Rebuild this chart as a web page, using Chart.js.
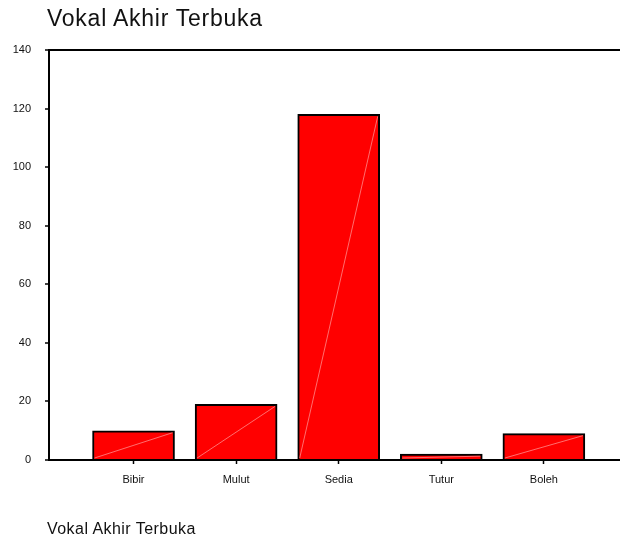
<!DOCTYPE html>
<html lang="ms">
<head>
<meta charset="UTF-8">
<title>Vokal Akhir Terbuka</title>
<script src="https://cdn.jsdelivr.net/npm/chart.js"></script>
<style>
  html, body { margin: 0; padding: 0; background: #fff; }
  #wrap { position: relative; width: 620px; height: 540px; }
  .label { position: absolute; left: 47px; font-family: "Liberation Sans", Arial, sans-serif; color: #111; white-space: nowrap; }
  #judul { top: 7px; font-size: 23px; line-height: 23px; letter-spacing: 0.75px; }
  #nota { top: 521px; font-size: 16px; line-height: 16px; letter-spacing: 0.45px; }
</style>
</head>
<body>
<div id="wrap">
  <canvas id="carta" width="620" height="540"></canvas>
  <div class="label" id="judul">Vokal Akhir Terbuka</div>
  <div class="label" id="nota">Vokal Akhir Terbuka</div>
</div>
<script>
// kategori dan kekerapan
const kategori = ['Bibir', 'Mulut', 'Sedia', 'Tutur', 'Boleh'];
const kekerapan = [10, 19, 118, 2, 9];
const tandaY = [0, 20, 40, 60, 80, 100, 120, 140];

const fon = { family: '"Liberation Sans", Arial, sans-serif', size: 11 };

// garis serong halus dalam setiap palang
const garisSerong = {
  id: 'garisSerong',
  afterDatasetsDraw(chart) {
    const ctx = chart.ctx;
    chart.getDatasetMeta(0).data.forEach(bar => {
      const p = bar.getProps(['x', 'y', 'base', 'width'], true);
      ctx.save();
      ctx.strokeStyle = 'rgba(255,185,185,0.85)';
      ctx.lineWidth = 0.7;
      ctx.beginPath();
      ctx.moveTo(p.x - p.width / 2 + 2, p.base - 1);
      ctx.lineTo(p.x + p.width / 2 - 2, p.y + 2);
      ctx.stroke();
      ctx.restore();
    });
  }
};

new Chart(document.getElementById('carta'), {
  type: 'bar',
  data: {
    datasets: [{
      data: kekerapan.map((v, i) => ({ x: i, y: v })),
      backgroundColor: '#ff0000',
      borderColor: '#000',
      borderWidth: 2,
      barThickness: 82
    }]
  },
  options: {
    responsive: false,
    animation: false,
    layout: { padding: { top: 50, right: 0, bottom: 50, left: 0 } },
    plugins: { legend: { display: false }, tooltip: { enabled: false } },
    scales: {
      x: {
        type: 'linear',
        offset: false,
        min: -0.824,
        max: 4.742,
        afterFit: s => { s.height = 30; },
        afterBuildTicks: s => { s.ticks = kategori.map((_, i) => ({ value: i })); },
        grid: { offset: false, drawOnChartArea: false, tickLength: 4, tickColor: '#000', tickWidth: 1.5 },
        border: { color: '#000', width: 2 },
        ticks: {
          stepSize: 1,
          includeBounds: false,
          autoSkip: false,
          maxRotation: 0,
          padding: 9,
          color: '#111',
          font: fon,
          callback: v => kategori[v] ?? ''
        }
      },
      y: {
        min: 0,
        max: 140,
        afterFit: s => { s.width = 49; },
        afterBuildTicks: s => { s.ticks = tandaY.map(v => ({ value: v })); },
        grid: {
          color: c => (c.tick && c.tick.value === 140 ? '#000' : 'rgba(0,0,0,0)'),
          lineWidth: 2,
          tickLength: 4,
          tickColor: '#000',
          tickWidth: 1.5
        },
        border: { color: '#000', width: 2 },
        ticks: { stepSize: 20, padding: 14, color: '#111', font: fon }
      }
    }
  },
  plugins: [garisSerong]
});
</script>
</body>
</html>
